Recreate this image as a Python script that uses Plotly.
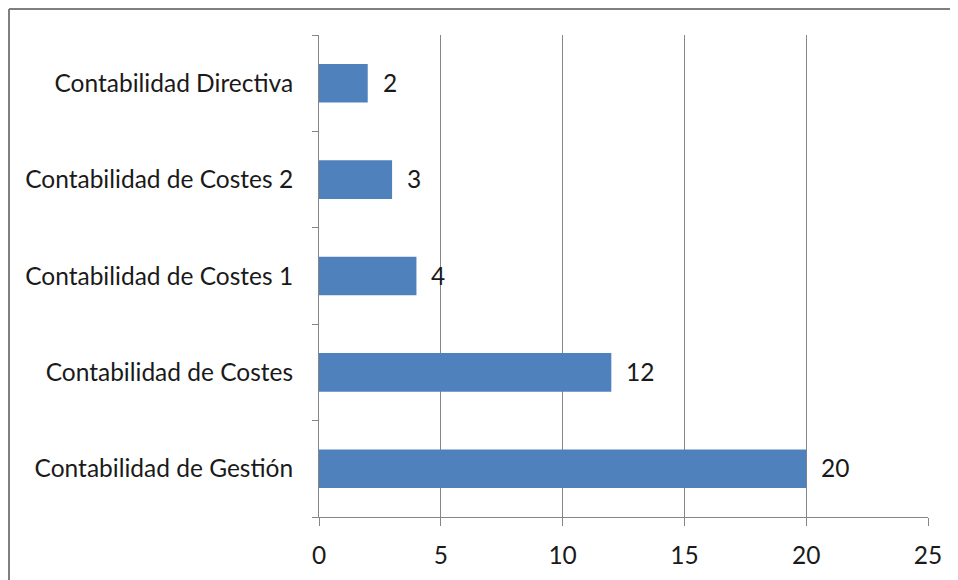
import plotly.graph_objects as go

categories = ["Contabilidad de Gestión", "Contabilidad de Costes",
              "Contabilidad de Costes 1", "Contabilidad de Costes 2",
              "Contabilidad Directiva"]
values = [20, 12, 4, 3, 2]
x_ticks = [0, 5, 10, 15, 20, 25]

# page has an 8px body margin, so the figure is offset by 8px
W, H = 950, 572
L, R, T, B = 311, 30, 27, 63
pw, ph = W - L - R, H - T - B

FONT = "Lato"
FS = 24.5
TXT = "#1a1a1a"
GRID = "#868686"

fig = go.Figure()
fig.add_trace(go.Bar(
    y=categories, x=values, orientation="h",
    marker=dict(color="#4f81bd", line=dict(color="#4f81bd", width=0)),
    width=0.4, hoverinfo="skip",
))
for c, v in zip(categories, values):
    fig.add_annotation(x=v, y=c, text=str(v), showarrow=False,
                       xanchor="left", xshift=13, yshift=1,
                       font=dict(family=FONT, size=FS, color=TXT))

# outer chart border: only its left and top edges fall inside the picture
bx0 = (1 - L) / pw
bx1 = (W - L) / pw
by_top = (H - B - 1) / ph
by_bot = (H - B - H) / ph
fig.add_shape(type="line", xref="paper", yref="paper",
              x0=bx0, x1=bx0, y0=by_bot, y1=by_top,
              line=dict(color="#7f7f7f", width=2), layer="below")
fig.add_shape(type="line", xref="paper", yref="paper",
              x0=bx0, x1=bx1, y0=by_top, y1=by_top,
              line=dict(color="#7f7f7f", width=2), layer="below")

fig.update_layout(
    width=W, height=H,
    margin=dict(l=L, r=R, t=T, b=B, pad=0),
    paper_bgcolor="white", plot_bgcolor="white",
    showlegend=False,
    font=dict(family=FONT, size=FS, color=TXT),
)
fig.update_xaxes(range=[0, 25], tickvals=x_ticks, ticktext=[str(t) for t in x_ticks],
                 showgrid=True, gridcolor=GRID, gridwidth=1,
                 showline=True, linecolor=GRID, linewidth=1,
                 ticks="outside", ticklen=8, tickcolor=GRID,
                 ticklabelstandoff=9,
                 zeroline=False, tickfont=dict(family=FONT, size=FS, color=TXT))
fig.update_yaxes(categoryorder="array", categoryarray=categories,
                 showgrid=False, showline=True, linecolor=GRID, linewidth=1,
                 ticks="outside", ticklen=6, tickcolor=GRID, tickson="boundaries",
                 ticklabelstandoff=20,
                 tickfont=dict(family=FONT, size=FS, color=TXT))

fig.write_html("out.html")
